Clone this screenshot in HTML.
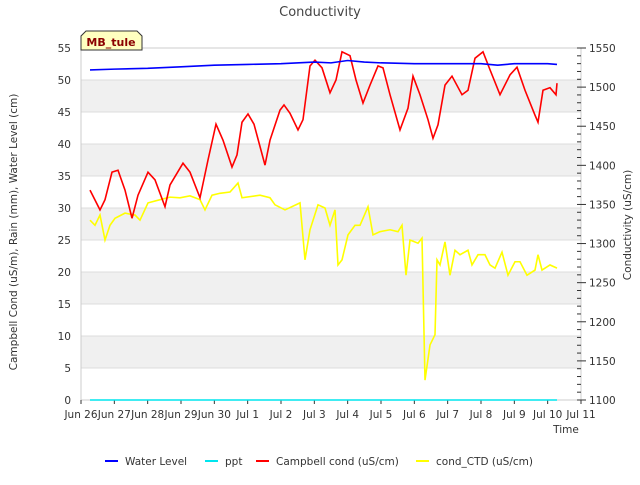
<!DOCTYPE html>
<html><head><meta charset="utf-8"><style>
body{margin:0;background:#fff;font-family:"Liberation Sans","DejaVu Sans",sans-serif}
svg text{font-family:"DejaVu Sans","Liberation Sans",sans-serif}
</style></head><body>
<svg id="c" width="640" height="480"></svg>
<script>
const xTickLabels=["Jun 26","Jun 27","Jun 28","Jun 29","Jun 30","Jul 1","Jul 2","Jul 3","Jul 4","Jul 5","Jul 6","Jul 7","Jul 8","Jul 9","Jul 10","Jul 11"];
const leftTicks=[0,5,10,15,20,25,30,35,40,45,50,55];
const rightTicks=[1100,1150,1200,1250,1300,1350,1400,1450,1500,1550];
const wlT=[0.27,1,2,3,4,5,6,7,7.5,8,8.5,9,10,11,12,12.5,13,14,14.28];
const wlV=[1522,1523,1524,1526,1528,1529,1530,1532,1531,1534,1532,1531,1530,1530,1530,1528,1530,1530,1529];
const pptT=[0.27,14.28];
const pptV=[0,0];
const cbT=[.27,.57,.72,.93,1.11,1.32,1.53,1.71,2.01,2.22,2.52,2.67,3.06,3.27,3.57,3.81,4.05,4.26,4.53,4.68,4.83,5.01,5.19,5.52,5.67,5.97,6.09,6.27,6.51,6.66,6.87,7.02,7.23,7.47,7.65,7.83,8.07,8.25,8.46,8.67,8.91,9.06,9.27,9.57,9.81,9.96,10.17,10.41,10.56,10.71,10.92,11.13,11.43,11.61,11.82,12.06,12.27,12.57,12.87,13.08,13.32,13.62,13.71,13.86,14.07,14.25,14.28];
const cbV=[32.8,29.7,31.3,35.6,35.9,32.8,28.4,32,35.6,34.4,30.2,33.6,37,35.6,31.6,37.5,43.1,40.6,36.4,38.3,43.4,44.7,43.1,36.7,40.6,45.3,46.1,44.8,42.2,43.8,52.2,53.1,51.9,48,50,54.4,53.8,50,46.4,49.2,52.2,51.9,47.7,42.2,45.6,50.6,47.7,43.8,40.9,43,49.2,50.6,47.7,48.4,53.4,54.4,51.6,47.7,50.8,52,48.4,44.5,43.4,48.4,48.8,47.7,49.5];
const ctdT=[.27,.42,.57,.72,.87,1.02,1.32,1.62,1.77,2.01,2.37,2.67,2.97,3.27,3.57,3.72,3.93,4.17,4.47,4.71,4.83,5.37,5.67,5.82,6.12,6.57,6.72,6.87,7.11,7.32,7.47,7.62,7.71,7.83,8.01,8.22,8.37,8.61,8.76,8.97,9.27,9.51,9.63,9.75,9.87,10.11,10.23,10.32,10.47,10.62,10.68,10.77,10.92,11.07,11.22,11.37,11.61,11.73,11.91,12.12,12.27,12.42,12.63,12.81,13.02,13.17,13.38,13.62,13.71,13.83,14.07,14.28];
const ctdV=[28.1,27.3,28.9,25,27.3,28.4,29.2,28.9,28.1,30.8,31.3,31.7,31.6,31.9,31.3,29.7,32,32.3,32.5,33.9,31.6,32,31.6,30.5,29.7,30.8,21.9,26.6,30.5,30,27.3,29.7,21.1,21.9,25.8,27.3,27.3,30.2,25.8,26.3,26.6,26.3,27.3,19.5,25,24.5,25.3,3.1,8.6,10.2,21.9,21.1,24.7,19.5,23.4,22.7,23.4,21.1,22.7,22.7,21.1,20.6,23.1,19.5,21.6,21.6,19.5,20.3,22.7,20.3,21.1,20.6];

const L=81,R=581,T=48,B=400;
const x=d=>L+d*(R-L)/15;
const yL=v=>B-v*(B-T)/55;
const yR=v=>B-(v-1100)*(B-T)/450;
const NS="http://www.w3.org/2000/svg";
const svg=document.getElementById('c');
function mk(tag,attrs,parent){const e=document.createElementNS(NS,tag);for(const k in attrs)e.setAttribute(k,attrs[k]);(parent||svg).appendChild(e);return e;}
for(let v=5;v<55;v+=10){
  const b=mk('rect',{x:L,y:yL(v+5),width:R-L,height:yL(v)-yL(v+5),fill:'#f0f0f0'});
  
  
}
leftTicks.forEach(v=>{mk('line',{x1:L,x2:R,y1:yL(v),y2:yL(v),stroke:'#dcdcdc','stroke-width':1});
  const t=mk('text',{x:L-10,y:yL(v)+4,'text-anchor':'end','font-size':10.5,fill:'#333'});t.textContent=v;
  
  });
mk('rect',{x:L,y:T,width:R-L,height:B-T,fill:'none',stroke:'#ccc'});
rightTicks.forEach(v=>{mk('line',{x1:R,x2:R+5,y1:yR(v),y2:yR(v),stroke:'#333'});
  const t=mk('text',{x:R+8,y:yR(v)+4,'font-size':10.5,fill:'#333'});t.textContent=v;
  
  });
for(let v=1100;v<=1550;v+=10)mk('line',{x1:R-4,x2:R,y1:yR(v),y2:yR(v),stroke:'#333'});
xTickLabels.forEach((s,i)=>{mk('line',{x1:x(i),x2:x(i),y1:B,y2:B+4,stroke:'#333'});
  const t=mk('text',{x:x(i),y:B+18,'text-anchor':'middle','font-size':10.5,fill:'#333'});t.textContent=s;
  
  });
function line(ts,vs,yf,col,name){
  const p=mk('polyline',{points:ts.map((t,i)=>x(t)+','+yf(vs[i])).join(' '),fill:'none',stroke:col,'stroke-width':1.6});
  
  
}
line(pptT,pptV,yL,'#00e5ee','ppt-line');
line(ctdT,ctdV,yL,'#ffff00','cond-ctd-line');
line(cbT,cbV,yL,'#ff0000','campbell-cond-line');
line(wlT,wlV,yR,'#0000ff','water-level-line');
function txt(s,a,name){const t=mk('text',a);t.textContent=s;return t;}
txt('Conductivity',{x:320,y:16,'text-anchor':'middle','font-size':13,fill:'#444'},'chart-title');
txt('Time',{x:566,y:433,'text-anchor':'middle','font-size':10.5,fill:'#333'},'x-axis-title');
txt('Campbell Cond (uS/m), Rain (mm), Water Level (cm)',{transform:'translate(17,232) rotate(-90)','text-anchor':'middle','font-size':10.5,fill:'#333'},'left-axis-title');
txt('Conductivity (uS/cm)',{transform:'translate(631,225) rotate(-90)','text-anchor':'middle','font-size':10.5,fill:'#333'},'right-axis-title');
const g=mk('g',{});
mk('path',{d:'M81,50 L81,36 L86,31 L137,31 L142,36 L142,50 Z',fill:'#ffffc0',stroke:'#333'},g);
const st=mk('text',{x:111,y:46,'text-anchor':'middle','font-size':11,'font-weight':'bold',fill:'#8b0000'},g);st.textContent='MB_tule';
const leg=[['Water Level','#0000ff',105],['ppt','#00e5ee',205],['Campbell cond (uS/cm)','#ff0000',256],['cond_CTD (uS/cm)','#ffff00',416]];
leg.forEach(([s,c,lx])=>{const lg=mk('g',{});
  mk('line',{x1:lx,x2:lx+13,y1:461,y2:461,stroke:c,'stroke-width':2},lg);
  const t=mk('text',{x:lx+20,y:465,'font-size':10.5,fill:'#333'},lg);t.textContent=s;});
</script>
</body></html>
